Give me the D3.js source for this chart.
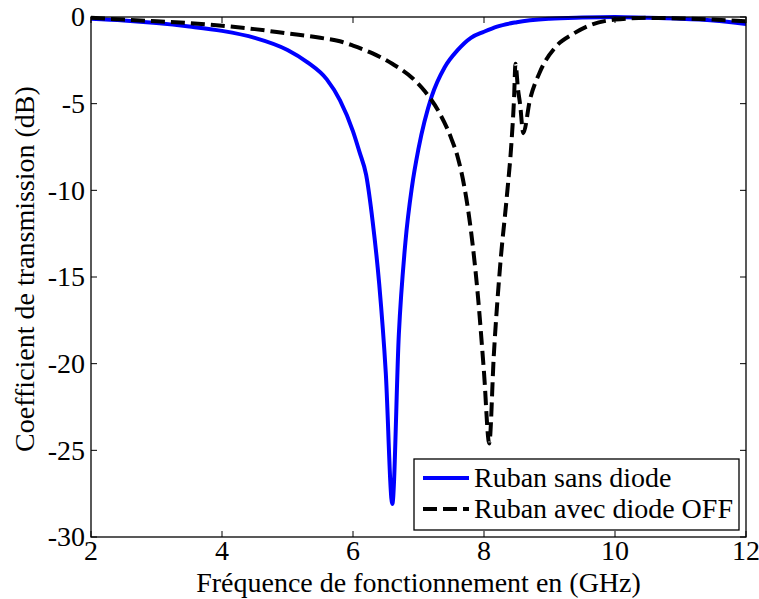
<!DOCTYPE html>
<html>
<head>
<meta charset="utf-8">
<script src="https://d3js.org/d3.v7.min.js"></script>
<style>
  body { margin: 0; background: #fff; }
  svg { display: block; }
</style>
</head>
<body>
<script>
// Ruban sans diode (GHz, dB)
const sansFreq = [2.0, 2.5, 3.0, 3.5, 4.0, 4.5, 5.0, 5.3, 5.6, 5.8, 6.0, 6.1, 6.2, 6.3, 6.4, 6.5, 6.6, 6.7, 6.8, 6.9, 7.0, 7.2, 7.4, 7.6, 7.8, 8.0, 8.2, 8.5, 9.0, 9.5, 10.0, 10.5, 11.0, 11.5, 12.0]
const sansDb = [-0.1, -0.2, -0.35, -0.55, -0.8, -1.2, -1.9, -2.6, -3.6, -4.8, -6.6, -7.8, -9.1, -11.8, -15.4, -20.5, -28.1, -18.3, -13.0, -9.8, -7.6, -4.6, -2.9, -1.9, -1.2, -0.85, -0.55, -0.3, -0.1, -0.03, 0, -0.05, -0.1, -0.2, -0.4]

// Ruban avec diode OFF (GHz, dB)
const offFreq = [2.0, 2.5, 3.0, 3.5, 4.0, 4.5, 5.0, 5.5, 5.8, 6.0, 6.3, 6.6, 6.9, 7.1, 7.3, 7.5, 7.6, 7.7, 7.8, 7.9, 8.0, 8.08, 8.15, 8.25, 8.35, 8.42, 8.46, 8.48, 8.52, 8.55, 8.6, 8.7, 8.85, 9.1, 9.35, 9.6, 10.0, 10.5, 11.0, 11.5, 12.0]
const offDb = [-0.05, -0.15, -0.25, -0.35, -0.5, -0.7, -0.95, -1.2, -1.4, -1.65, -2.1, -2.7, -3.5, -4.3, -5.4, -7.0, -8.1, -9.8, -12.3, -15.8, -20.5, -24.6, -19.5, -14.2, -10.3, -7.2, -4.6, -2.7, -4.2, -5.0, -6.7, -4.8, -3.2, -1.7, -1.0, -0.5, -0.15, -0.05, -0.08, -0.15, -0.25]

const xTicks = [2, 4, 6, 8, 10, 12]
const yTicks = [0, -5, -10, -15, -20, -25, -30]
const seriesNames = ['Ruban sans diode', 'Ruban avec diode OFF']
const xLabel = 'Fréquence de fonctionnement en (GHz)'
const yLabel = 'Coefficient de transmission (dB)'

const width = 759
const height = 599
const margin = { top: 17, right: 13, bottom: 62, left: 91 }
const fontSize = 28
const serif = '"Liberation Serif"'
const tickLen = 6

const x = d3.scaleLinear().domain([2, 12]).range([margin.left, width - margin.right])
const y = d3.scaleLinear().domain([-30, 0]).range([height - margin.bottom, margin.top])

const svg = d3.select('body').append('svg')
  .attr('width', width)
  .attr('height', height)

const series = [
  { name: seriesNames[0], pts: sansFreq.map((f, i) => [f, sansDb[i]]), color: '#0000ff', dash: null },
  { name: seriesNames[1], pts: offFreq.map((f, i) => [f, offDb[i]]), color: '#000', dash: '14,6' }
]

const line = d3.line().x(d => x(d[0])).y(d => y(d[1])).curve(d3.curveMonotoneX)

svg.append('defs').append('clipPath').attr('id', 'plot')
  .append('rect')
  .attr('x', margin.left).attr('y', margin.top - 3)
  .attr('width', x(12) - x(2)).attr('height', y(-30) - y(0) + 3)

// curves
svg.append('g').attr('clip-path', 'url(#plot)')
  .selectAll('path')
  .data(series)
  .join('path')
  .attr('d', d => line(d.pts))
  .attr('fill', 'none')
  .attr('stroke', d => d.color)
  .attr('stroke-width', 4)
  .attr('stroke-dasharray', d => d.dash)
  .attr('stroke-linejoin', 'round')

// box + inward ticks on all sides
const axes = svg.append('g')
axes.append('rect')
  .attr('x', x(2)).attr('y', y(0))
  .attr('width', x(12) - x(2)).attr('height', y(-30) - y(0))
  .attr('fill', 'none').attr('stroke', '#000').attr('stroke-width', 1.3)

axes.selectAll('.xt').data(xTicks).join('g').attr('class', 'xt')
  .each(function (d) {
    const g = d3.select(this)
    g.append('line').attr('x1', x(d)).attr('x2', x(d)).attr('y1', y(-30)).attr('y2', y(-30) - tickLen)
    g.append('line').attr('x1', x(d)).attr('x2', x(d)).attr('y1', y(0)).attr('y2', y(0) + tickLen)
  })
  .selectAll('line').attr('stroke', '#000').attr('stroke-width', 1)

axes.selectAll('.yt').data(yTicks).join('g').attr('class', 'yt')
  .each(function (d) {
    const g = d3.select(this)
    g.append('line').attr('x1', x(2)).attr('x2', x(2) + tickLen).attr('y1', y(d)).attr('y2', y(d))
    g.append('line').attr('x1', x(12)).attr('x2', x(12) - tickLen).attr('y1', y(d)).attr('y2', y(d))
  })
  .selectAll('line').attr('stroke', '#000').attr('stroke-width', 1)

// tick labels
svg.append('g').selectAll('text').data(xTicks).join('text')
  .attr('x', d => x(d))
  .attr('y', y(-30) + 23)
  .attr('text-anchor', 'middle')
  .attr('font-size', fontSize)
  .style('font-family', serif)
  .text(d => d)

svg.append('g').selectAll('text').data(yTicks).join('text')
  .attr('x', x(2) - 6)
  .attr('y', d => y(d))
  .attr('dy', '0.33em')
  .attr('text-anchor', 'end')
  .attr('font-size', fontSize)
  .style('font-family', serif)
  .text(d => d)

// axis labels
svg.append('text')
  .attr('x', (x(2) + x(12)) / 2)
  .attr('y', 592)
  .attr('text-anchor', 'middle')
  .attr('font-size', fontSize)
  .style('font-family', serif)
  .text(xLabel)

svg.append('text')
  .attr('transform', `translate(34,${(y(0) + y(-30)) / 2 - 8}) rotate(-90)`)
  .attr('text-anchor', 'middle')
  .attr('font-size', fontSize)
  .style('font-family', serif)
  .text(yLabel)

// legend
const lg = svg.append('g')
lg.append('rect')
  .attr('x', 414).attr('y', 459)
  .attr('width', 325).attr('height', 71)
  .attr('fill', '#fff').attr('stroke', '#000').attr('stroke-width', 1.3)

const rows = lg.selectAll('g').data(series).join('g')
  .attr('transform', (d, i) => `translate(0,${478 + i * 31})`)
rows.append('line')
  .attr('x1', 423).attr('x2', 469)
  .attr('stroke', d => d.color)
  .attr('stroke-width', 4)
  .attr('stroke-dasharray', d => d.dash)
rows.append('text')
  .attr('x', 474)
  .attr('dy', '0.33em')
  .attr('font-size', fontSize)
  .style('font-family', serif)
  .text(d => d.name)
</script>
</body>
</html>
